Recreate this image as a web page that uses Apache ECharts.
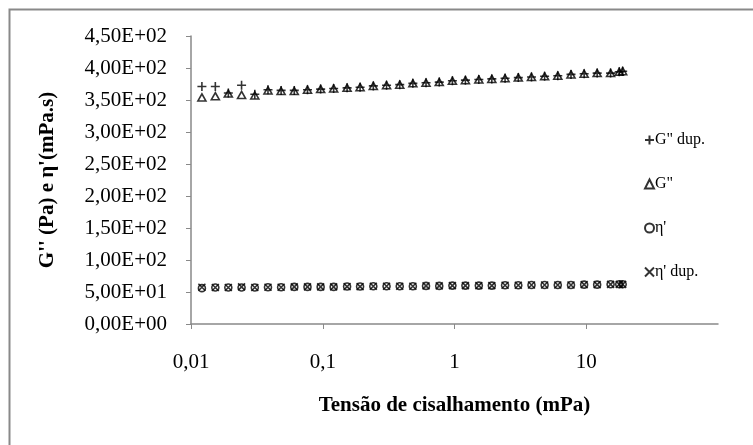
<!DOCTYPE html>
<html>
<head>
<meta charset="utf-8">
<script src="https://cdn.jsdelivr.net/npm/echarts@6/dist/echarts.min.js"></script>
<style>
html,body{margin:0;padding:0;background:#fff;}
#c{width:753px;height:445px;}
</style>
</head>
<body>
<div id="c"></div>
<script>
// Shear stress (mPa)
const stress = [0.0121, 0.0153, 0.0192, 0.0242, 0.0305, 0.0384, 0.0483, 0.0608, 0.0766, 0.0964,
  0.121, 0.153, 0.192, 0.242, 0.305, 0.384, 0.483, 0.608, 0.766, 0.964,
  1.21, 1.53, 1.92, 2.42, 3.05, 3.84, 4.83, 6.08, 7.66, 9.64,
  12.1, 15.3, 17.8, 18.9];
const gDup = [371, 371, 361, 373, 359, 366, 365, 365, 366, 367, 368, 369, 370, 372, 373, 374, 376, 377, 378, 380,
  381, 382, 383, 384, 385, 386, 387, 388, 390, 391, 392, 392, 394, 395];
const gMain = [354, 356, 360, 358, 357, 365, 364, 364, 366, 367, 368, 369, 370, 372, 373, 374, 376, 377, 378, 380,
  381, 382, 383, 384, 385, 386, 387, 388, 390, 391, 392, 392, 394, 395];
const eta = [56, 57, 57, 57, 57, 57.5, 57.5, 58, 58, 58, 58, 58.5, 58.5, 59, 59, 59, 59, 59.5, 59.5, 60,
  60, 60, 60, 60.5, 60.5, 61, 61, 61, 61, 61.5, 61.5, 62, 62, 62];
const etaDup = [57.5, 57, 57, 58, 57, 57.5, 57.5, 58, 58, 58, 58, 58.5, 58.5, 59, 59, 59, 59, 59.5, 59.5, 60,
  60, 60, 60, 60.5, 60.5, 61, 61, 61, 61, 61.5, 61.5, 62, 62, 62];
const seriesNames = ['G" dup.', 'G"', "\u03b7'", "\u03b7' dup."];
const xTicks = [0.01, 0.1, 1, 10];
const xTickLabels = ['0,01', '0,1', '1', '10'];

const font = '"Liberation Serif", "Times New Roman", serif';
function pairs(xs, ys) { return xs.map((x, i) => [x, ys[i]]); }
function sci(v) {
  if (v === 0) return '0,00E+00';
  const e = Math.floor(Math.log10(v));
  const m = v / Math.pow(10, e);
  const es = (e < 0 ? '-' : '+') + String(Math.abs(e)).padStart(2, '0');
  return m.toFixed(2).replace('.', ',') + 'E' + es;
}
function xLabel(v) {
  for (let i = 0; i < xTicks.length; i++) {
    if (Math.abs(Math.log10(v) - Math.log10(xTicks[i])) < 1e-6) return xTickLabels[i];
  }
  return '';
}
const chart = echarts.init(document.getElementById('c'));
chart.setOption({
  animation: false,
  backgroundColor: '#fff',
  graphic: [{
    type: 'rect', left: 7, top: 7,
    shape: { x: 0, y: 0, width: 820, height: 500 },
    style: { fill: 'none', stroke: '#898989', lineWidth: 2 }, silent: true, z: -1
  }],
  grid: { left: 191, right: 35, top: 36, bottom: 121, containLabel: false },
  legend: {
    orient: 'vertical', left: 639, top: 127, itemGap: 28, itemWidth: 9, itemHeight: 9,
    textStyle: { fontFamily: font, fontSize: 16, color: '#000', padding: [0, 0, 0, -4] },
    data: seriesNames
  },
  xAxis: {
    type: 'log', logBase: 10, min: 0.01, max: 100,
    name: 'Tensão de cisalhamento (mPa)', nameLocation: 'middle', nameGap: 71,
    nameTextStyle: { fontFamily: font, fontSize: 21, fontWeight: 'bold', color: '#000' },
    axisLine: { lineStyle: { color: '#898989', width: 1.5 } },
    axisTick: { show: true, length: 5, lineStyle: { color: '#898989' }, customValues: xTicks },
    minorTick: { show: false },
    splitLine: { show: false },
    axisLabel: {
      fontFamily: font, fontSize: 21, color: '#000', margin: 28,
      customValues: xTicks, formatter: v => xLabel(v)
    }
  },
  yAxis: {
    type: 'value', min: 0, max: 450, interval: 50,
    name: "G'' (Pa) e \u03b7'(mPa.s)", nameLocation: 'middle', nameGap: 133,
    nameTextStyle: { fontFamily: font, fontSize: 21, fontWeight: 'bold', color: '#000' },
    axisLine: { show: true, lineStyle: { color: '#898989', width: 1.5 } },
    axisTick: { show: true, length: 5, lineStyle: { color: '#898989' } },
    splitLine: { show: false },
    axisLabel: { fontFamily: font, fontSize: 21, color: '#000', margin: 24, formatter: v => sci(v) }
  },
  series: [
    { name: seriesNames[0], type: 'scatter', data: pairs(stress, gDup),
      symbol: 'path://M5,0L5,10M0,5L10,5', symbolSize: 9,
      itemStyle: { color: 'rgba(0,0,0,0)', borderColor: '#000', borderWidth: 1.6 } },
    { name: seriesNames[1], type: 'scatter', data: pairs(stress, gMain),
      symbol: 'triangle', symbolSize: [8, 7],
      itemStyle: { color: 'rgba(255,255,255,0)', borderColor: '#000', borderWidth: 1.6 } },
    { name: seriesNames[2], type: 'scatter', data: pairs(stress, eta),
      symbol: 'circle', symbolSize: 7,
      itemStyle: { color: 'rgba(255,255,255,0)', borderColor: '#000', borderWidth: 1.6 } },
    { name: seriesNames[3], type: 'scatter', data: pairs(stress, etaDup),
      symbol: 'path://M0,0L10,10M10,0L0,10', symbolSize: 7,
      itemStyle: { color: 'rgba(0,0,0,0)', borderColor: '#000', borderWidth: 1.6 } }
  ]
});
</script>
</body>
</html>
